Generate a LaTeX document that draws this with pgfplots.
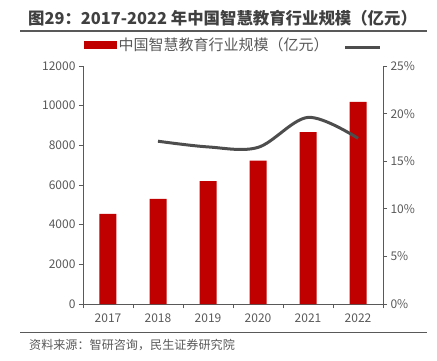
\documentclass[border=0pt]{standalone}
\usepackage{pgfplots}
\pgfplotsset{compat=1.18}
\usepackage{fontspec}
\setmainfont{Noto Sans CJK SC}
\definecolor{barred}{HTML}{C00000}
\definecolor{linegray}{HTML}{4D4D4D}
\definecolor{axgray}{HTML}{595959}
\definecolor{txtgray}{HTML}{404040}
\begin{document}
\begin{tikzpicture}[x=1pt,y=1pt]
\path (0,0) rectangle (437,360);
% title
\node[anchor=west,inner sep=0] at (28,342) {\fontsize{16.4}{18}\selectfont\bfseries\color{txtgray}图29：2017-2022 年中国智慧教育行业规模（亿元）};
\draw[axgray,line width=1.3pt] (20,329) -- (427,329);
\draw[axgray,line width=1.3pt] (20,27.5) -- (427,27.5);
\node[anchor=west,inner sep=0] at (29,15) {\fontsize{12.1}{14}\selectfont\color{axgray}资料来源：智研咨询，民生证券研究院};
\begin{axis}[
  at={(83pt,56pt)}, anchor=south west,
  width=300pt, height=238pt, scale only axis,
  xmin=-0.5, xmax=5.5, ymin=0, ymax=12000,
  axis x line*=bottom, axis y line*=left,
  axis line style={axgray, line width=0.8pt},
  xtick={0,1,2,3,4,5},
  xticklabels={2017,2018,2019,2020,2021,2022},
  major x tick style={draw=none},
  minor xtick={-0.5,0.5,1.5,2.5,3.5,4.5,5.5},
  minor tick length=4pt, major tick length=4pt,
  tick align=outside,
  tick style={axgray, line width=0.8pt},
  ytick={0,2000,...,12000},
  scaled y ticks=false,
  /pgf/number format/assume math mode=true,
  /pgf/number format/set thousands separator={},
  tick label style={font=\fontsize{12}{14}\selectfont, text=axgray},
  xticklabel style={yshift=-2pt},
]
\addplot[ybar, bar width=17pt, fill=barred, draw=none] coordinates {
 (0,4540) (1,5295) (2,6200) (3,7235) (4,8670) (5,10185)};
\end{axis}
\begin{axis}[
  at={(83pt,56pt)}, anchor=south west,
  width=300pt, height=238pt, scale only axis,
  xmin=-0.5, xmax=5.5, ymin=0, ymax=25,
  axis x line=none, axis y line*=right,
  axis line style={axgray, line width=0.8pt},
  tick align=outside, major tick length=4pt,
  tick style={axgray, line width=0.8pt},
  ytick={0,5,...,25},
  yticklabel={\pgfmathprintnumber{\tick}\%},
  /pgf/number format/assume math mode=true,
  tick label style={font=\fontsize{12}{14}\selectfont, text=axgray},
  legend columns=2,
  legend style={at={(0.003,1.088)}, anchor=west, draw=none, fill=none,
    inner sep=0pt, font=\fontsize{15}{17}\selectfont, text=axgray,
    /tikz/every even column/.append style={column sep=13pt},
    nodes={inner xsep=2pt}},
]
\addlegendimage{legend image code/.code={\fill[barred] (0pt,-3.5pt) rectangle (32pt,3.5pt);}}
\addlegendentry{中国智慧教育行业规模（亿元）}
\addplot[linegray, line width=3pt, smooth, tension=0.55,
  legend image code/.code={\draw[linegray,line width=3pt] (0pt,-2pt) -- (35pt,-2pt);}] coordinates {
 (1,17.1) (2,16.5) (3,16.45) (4,19.6) (5,17.4)};
\addlegendentry{}
\end{axis}
\end{tikzpicture}
\end{document}
